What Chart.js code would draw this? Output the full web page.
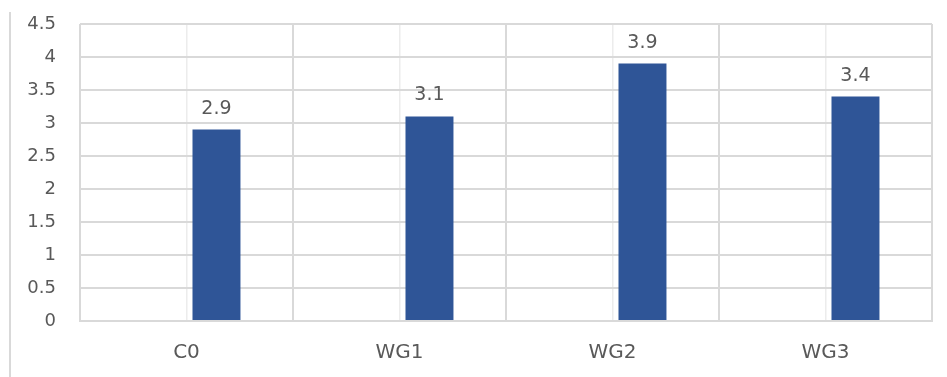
<!DOCTYPE html>
<html>
<head>
<meta charset="utf-8">
<script src="https://cdn.jsdelivr.net/npm/chart.js@4"></script>
<style>
  html, body { margin: 0; padding: 0; background: #ffffff; }
  #wrap { position: relative; width: 947px; height: 377px; }
  #frame { position: absolute; left: 9px; top: 12px; bottom: 0; border-left: 2px solid #d9d9d9; }
  canvas { position: absolute; left: 0; top: 0; }
</style>
</head>
<body>
<div id="wrap">
  <div id="frame"></div>
  <canvas id="c" width="947" height="377"></canvas>
</div>
<script>
// Groups and measured values
const categories = ['C0', 'WG1', 'WG2', 'WG3'];
const blankSeries = [null, null, null, null];
const values = [2.9, 3.1, 3.9, 3.4];
const yTicks = [0, 0.5, 1, 1.5, 2, 2.5, 3, 3.5, 4, 4.5];

const textColor = '#595959';
const gridColor = '#d9d9d9';
const fontFamily = '"DejaVu Sans", sans-serif';

// Writes each bar's value just above it
const valueLabels = {
  id: 'valueLabels',
  afterDatasetsDraw(chart) {
    const ctx = chart.ctx;
    const meta = chart.getDatasetMeta(1);
    ctx.save();
    ctx.fillStyle = textColor;
    ctx.font = '19px ' + fontFamily;
    ctx.textAlign = 'center';
    ctx.textBaseline = 'alphabetic';
    meta.data.forEach((bar, i) => {
      const v = chart.data.datasets[1].data[i];
      if (v == null) return;
      ctx.fillText(String(v), bar.x, bar.y - 16);
    });
    ctx.restore();
  }
};

new Chart(document.getElementById('c'), {
  type: 'bar',
  data: {
    labels: categories,
    datasets: [
      { label: 'blank', data: blankSeries, backgroundColor: 'rgba(0,0,0,0)' },
      { label: 'value', data: values, backgroundColor: '#2f5597', borderWidth: 0 }
    ]
  },
  options: {
    responsive: false,
    animation: false,
    events: [],
    categoryPercentage: 0.563,
    barPercentage: 0.8,
    layout: { padding: { left: 0, right: 15, top: 24, bottom: 0 } },
    plugins: { legend: { display: false }, tooltip: { enabled: false } },
    scales: {
      x: {
        type: 'category',
        position: 'bottom',
        offset: true,
        grid: { offset: true, color: gridColor, lineWidth: 2, drawTicks: false },
        border: { display: true, color: gridColor, width: 2 },
        ticks: { color: textColor, font: { family: fontFamily, size: 20 }, padding: 20, maxRotation: 0 },
        afterFit(scale) { scale.height = 56; }
      },
      xc: {
        type: 'category',
        position: 'bottom',
        labels: categories,
        offset: true,
        grid: { offset: false, color: '#ececec', lineWidth: 1.5, drawTicks: false },
        border: { display: false },
        ticks: { display: false },
        afterFit(scale) { scale.height = 0; }
      },
      y: {
        min: 0,
        max: 4.5,
        afterBuildTicks(scale) { scale.ticks = yTicks.map(v => ({ value: v })); },
        grid: { color: gridColor, lineWidth: 2, drawTicks: false },
        border: { display: false },
        ticks: {
          color: textColor,
          font: { family: fontFamily, size: 18 },
          padding: 24,
          callback: v => String(v)
        },
        afterFit(scale) {
          scale.width = 80;
          scale.paddingTop = 0;
          scale.paddingBottom = 0;
        }
      }
    }
  },
  plugins: [valueLabels]
});
</script>
</body>
</html>
